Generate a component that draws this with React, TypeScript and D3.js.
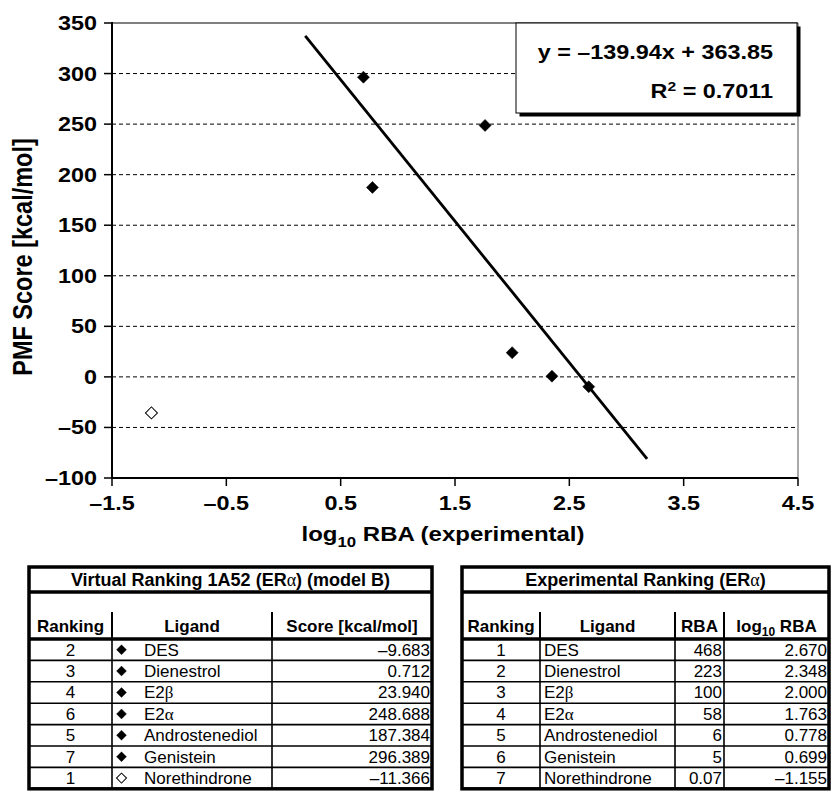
import React from 'react';
import * as d3 from 'd3';

const W = 832;
const H = 793;

// table data
const ligands = ['DES', 'Dienestrol', 'E2β', 'E2α', 'Androstenediol', 'Genistein', 'Norethindrone'];
const virtualRank = [2, 3, 4, 6, 5, 7, 1];
const scores = [-9.683, 0.712, 23.94, 248.688, 187.384, 296.389, -11.366];
const expRank = [1, 2, 3, 4, 5, 6, 7];
const rba = [468, 223, 100, 58, 6, 5, 0.07];
const logRba = [2.67, 2.348, 2.0, 1.763, 0.778, 0.699, -1.155];
const filled = [true, true, true, true, true, true, false];
// y as drawn in the chart (Norethindrone sits below its table score)
const plotScores = [-9.683, 0.712, 23.94, 248.688, 187.384, 296.389, -35.6];

const xTicks = [-1.5, -0.5, 0.5, 1.5, 2.5, 3.5, 4.5];
const yTicks = [-100, -50, 0, 50, 100, 150, 200, 250, 300, 350];
const gridTicks = [-50, 0, 50, 100, 150, 200, 250, 300];
const slope = -139.94;
const intercept = 363.85;
const fitRange = [0.19, 3.18];

const SANS = '"Liberation Sans", Arial, sans-serif';
const SERIF = '"Liberation Serif", "Times New Roman", serif';
const STRETCH = 1.2;

const dash = (v: number) => (v < 0 ? '–' + Math.abs(v) : String(v));
const fmt3 = (v: number) => {
  const s = d3.format('.3f')(Math.abs(v));
  return v < 0 ? '–' + s : s;
};

// chart text is drawn a bit wider than it is tall, like the original
const SText = ({ x, y, anchor = 'middle', size = 19.5, children }: any) => (
  <text
    transform={`translate(${x},${y}) scale(${STRETCH},1)`}
    textAnchor={anchor}
    fontFamily={SANS}
    fontWeight="bold"
    fontSize={size}
    fill="#000"
  >
    {children}
  </text>
);

const greek = /[αβ]/;
const Name = ({ name }: { name: string }) => {
  const parts = name.split(/([αβ])/).filter((p) => p !== '');
  return (
    <>
      {parts.map((p, i) =>
        greek.test(p) ? (
          <tspan key={i} fontFamily={SERIF}>
            {p}
          </tspan>
        ) : (
          <tspan key={i}>{p}</tspan>
        )
      )}
    </>
  );
};

const diamond = (size: number) => d3.symbol(d3.symbolSquare, (size * size) / 2)() || '';

// table layout
const T_TOP = 567;
const TITLE_LINE = 592;
const SEP_TOP = 612;
const HEAD_LINE = 639;
const ROW_H = 21.4;
const T_BOTTOM = HEAD_LINE + ROW_H * 7;

const Table = ({ cols, title, header, rows, align, pad }: any) => {
  const left = cols[0];
  const right = cols[cols.length - 1];
  return (
    <g fontFamily={SANS} fontSize={17} fill="#000">
      {/* title */}
      <text x={(left + right) / 2} y={T_TOP + 18.5} textAnchor="middle" fontWeight="bold" fontSize={18}>
        {title}
      </text>
      {/* header */}
      {header.map((h: any, i: number) => (
        <text key={i} x={(cols[i] + cols[i + 1]) / 2} y={HEAD_LINE - 7} textAnchor="middle" fontWeight="bold">
          {h}
        </text>
      ))}
      {cols.slice(1, -1).map((c: number, i: number) => (
        <line key={i} x1={c} x2={c} y1={SEP_TOP} y2={HEAD_LINE} stroke="#000" strokeWidth={2} />
      ))}
      {/* rows */}
      {rows.map((r: any[], ri: number) => {
        const top = HEAD_LINE + ri * ROW_H;
        return (
          <g key={ri}>
            {ri > 0 && <line x1={left} x2={right} y1={top} y2={top} stroke="#000" strokeWidth={1.6} />}
            {r.map((cell: any, ci: number) => {
              const a = align[ci];
              const tx =
                a === 'middle'
                  ? (cols[ci] + cols[ci + 1]) / 2
                  : a === 'end'
                    ? cols[ci + 1] - 2
                    : cols[ci] + pad[ci];
              return (
                <text key={ci} x={tx} y={top + 16.5} textAnchor={a}>
                  {cell}
                </text>
              );
            })}
          </g>
        );
      })}
      {cols.slice(1, -1).map((c: number, i: number) => (
        <line key={i} x1={c} x2={c} y1={HEAD_LINE} y2={T_BOTTOM} stroke="#000" strokeWidth={1.6} />
      ))}
      {/* thick frame */}
      <rect x={left} y={T_TOP} width={right - left} height={T_BOTTOM - T_TOP} fill="none" stroke="#000" strokeWidth={3.5} />
      <line x1={left} x2={right} y1={TITLE_LINE} y2={TITLE_LINE} stroke="#000" strokeWidth={3.5} />
      <line x1={left} x2={right} y1={HEAD_LINE} y2={HEAD_LINE} stroke="#000" strokeWidth={3.5} />
    </g>
  );
};

const App = () => {
  const x = d3.scaleLinear().domain([-1.5, 4.5]).range([112, 798]);
  const y = d3.scaleLinear().domain([-100, 350]).range([478, 23]);
  const [x0, x1] = x.range();
  const [yb, yt] = y.range();

  const fit = d3.line<number>()
    .x((d) => x(d))
    .y((d) => y(slope * d + intercept));

  const leftRows = ligands.map((l, i) => [virtualRank[i], <Name key="n" name={l} />, fmt3(scores[i])]);
  const rightRows = ligands.map((l, i) => [expRank[i], <Name key="n" name={l} />, String(rba[i]), fmt3(logRba[i])]);

  return (
    <svg
      width={W}
      height={H}
      viewBox={`0 0 ${W} ${H}`}
      style={{ position: 'absolute', left: 0, top: 0, background: '#fff' }}
    >
      <rect width={W} height={H} fill="#fff" />

      {/* grid */}
      {gridTicks.map((t) => (
        <line key={t} x1={x0} x2={x1} y1={y(t)} y2={y(t)} stroke="#000" strokeWidth={1} strokeDasharray="4,3" />
      ))}

      {/* frame */}
      <line x1={x0} x2={x1} y1={yt} y2={yt} stroke="#000" strokeWidth={1.2} />
      <line x1={x1} x2={x1} y1={yt} y2={yb} stroke="#555" strokeWidth={1} />
      <line x1={x0} x2={x0} y1={yt - 1} y2={yb + 1} stroke="#000" strokeWidth={2} />
      <line x1={x0 - 1} x2={x1} y1={yb} y2={yb} stroke="#000" strokeWidth={2} />

      {/* y ticks */}
      {yTicks.map((t) => (
        <g key={t}>
          <line x1={x0 - 8} x2={x0} y1={y(t)} y2={y(t)} stroke="#000" strokeWidth={1.5} />
          <SText x={97} y={y(t) + 7} anchor="end">
            {dash(t)}
          </SText>
        </g>
      ))}
      {/* x ticks */}
      {xTicks.map((t) => (
        <g key={t}>
          <line x1={x(t)} x2={x(t)} y1={yb} y2={yb + 8} stroke="#000" strokeWidth={1.5} />
          <SText x={x(t)} y={510}>
            {dash(t)}
          </SText>
        </g>
      ))}

      {/* axis titles */}
      <text
        transform={`translate(32,257) scale(${STRETCH},1) rotate(-90)`}
        textAnchor="middle"
        fontFamily={SANS}
        fontWeight="bold"
        fontSize={23.5}
      >
        PMF Score [kcal/mol]
      </text>
      <SText x={443} y={541} size={20}>
        log
        <tspan fontSize={14} dy={6}>
          10
        </tspan>
        <tspan dy={-6}> RBA (experimental)</tspan>
      </SText>

      {/* regression line */}
      <path d={fit(fitRange) || ''} fill="none" stroke="#000" strokeWidth={2.8} />

      {/* points */}
      {logRba.map((v, i) => (
        <path
          key={i}
          d={diamond(12)}
          transform={`translate(${x(v)},${y(plotScores[i])}) rotate(45)`}
          fill={filled[i] ? '#000' : '#fff'}
          stroke="#000"
          strokeWidth={filled[i] ? 0.5 : 1}
        />
      ))}

      {/* equation box */}
      <rect x={519.5} y={26.5} width={281} height={90} fill="#000" />
      <rect x={516} y={23} width={281} height={90} fill="#fff" stroke="#000" strokeWidth={1} />
      <SText x={773} y={58.5} anchor="end">
        y = –139.94x + 363.85
      </SText>
      <SText x={773} y={98} anchor="end">
        R<tspan fontSize={13} dy={-7}>2</tspan>
        <tspan dy={7}> = 0.7011</tspan>
      </SText>

      {/* tables */}
      <Table
        cols={[29, 112, 272, 432]}
        title={
          <>
            Virtual Ranking 1A52 (ER<tspan fontFamily={SERIF} fontWeight="normal">α</tspan>) (model B)
          </>
        }
        header={['Ranking', 'Ligand', 'Score [kcal/mol]']}
        rows={leftRows}
        align={['middle', 'start', 'end']}
        pad={[0, 32, 0]}
      />
      {ligands.map((l, i) => (
        <path
          key={l}
          d={diamond(10)}
          transform={`translate(121.5,${HEAD_LINE + i * ROW_H + ROW_H / 2}) rotate(45)`}
          fill={filled[i] ? '#000' : '#fff'}
          stroke="#000"
          strokeWidth={filled[i] ? 0.3 : 1}
        />
      ))}
      <Table
        cols={[462, 540, 675, 724, 829]}
        title={
          <>
            Experimental Ranking (ER<tspan fontFamily={SERIF} fontWeight="normal">α</tspan>)
          </>
        }
        header={[
          'Ranking',
          'Ligand',
          'RBA',
          <>
            log<tspan fontSize={12} dy={4}>10</tspan>
            <tspan dy={-4}> RBA</tspan>
          </>,
        ]}
        rows={rightRows}
        align={['middle', 'start', 'end', 'end']}
        pad={[0, 4, 0, 0]}
      />
    </svg>
  );
};

export default App;
